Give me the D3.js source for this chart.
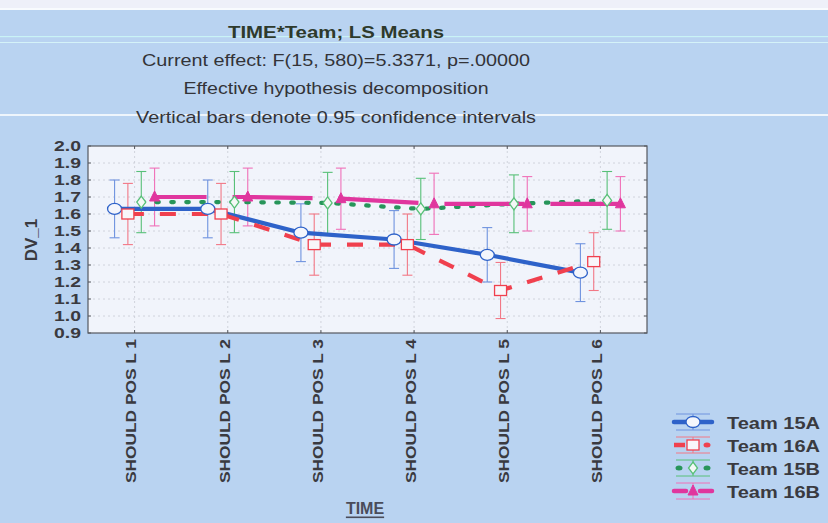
<!DOCTYPE html>
<html>
<head>
<meta charset="utf-8">
<script src="https://cdn.jsdelivr.net/npm/d3@7"></script>
<style>
  html, body { margin: 0; padding: 0; background: #b9d3f1; }
  svg { display: block; font-family: "Liberation Sans", Arial, sans-serif; }
</style>
</head>
<body>
<svg id="chart" width="828" height="523"></svg>
<script>
// Categories (repeated-measures levels of TIME)
const timeLevels = ["SHOULD POS L 1", "SHOULD POS L 2", "SHOULD POS L 3",
                    "SHOULD POS L 4", "SHOULD POS L 5", "SHOULD POS L 6"];

// LS means per team
const team15A = [1.63, 1.63, 1.49, 1.45, 1.36, 1.255];
const team16A = [1.60, 1.60, 1.42, 1.42, 1.15, 1.32];
const team15B = [1.67, 1.67, 1.665, 1.63, 1.66, 1.68];
const team16B = [1.70, 1.70, 1.69, 1.66, 1.66, 1.66];

// Half-widths of the 0.95 confidence intervals
const ci15A = [0.17, 0.17, 0.17, 0.17, 0.16, 0.17];
const ci16A = [0.18, 0.18, 0.18, 0.18, 0.165, 0.17];
const ci15B = [0.18, 0.18, 0.18, 0.18, 0.17, 0.17];
const ci16B = [0.17, 0.17, 0.18, 0.18, 0.16, 0.16];

const yTicks = [0.9, 1.0, 1.1, 1.2, 1.3, 1.4, 1.5, 1.6, 1.7, 1.8, 1.9, 2.0];

const titleLines = [
  "TIME*Team; LS Means",
  "Current effect: F(15, 580)=5.3371, p=.00000",
  "Effective hypothesis decomposition",
  "Vertical bars denote 0.95 confidence intervals"
];

const series = [
  { name: "Team 15A", means: team15A, ci: ci15A, line: "#2e62c9", bar: "#6f93df", marker: "circle",   dash: null,     cap: "butt"  },
  { name: "Team 16A", means: team16A, ci: ci16A, line: "#f0404e", bar: "#f27886", marker: "square",   dash: "16,16",  cap: "butt"  },
  { name: "Team 15B", means: team15B, ci: ci15B, line: "#27955a", bar: "#58c078", marker: "diamond",  dash: "2.5,12.5", cap: "round" },
  { name: "Team 16B", means: team16B, ci: ci16B, line: "#e0369e", bar: "#f070b8", marker: "triangle", dash: "80,26",  cap: "butt", offset: 28 }
];
const offsets = [-20, -6.7, 6.7, 20];

const svg = d3.select("#chart");
const W = 828, H = 523;
const plot = { left: 88, right: 647, top: 146, bottom: 333 };

// background and scan-band streaks
svg.append("rect").attr("width", W).attr("height", H).attr("fill", "#b9d3f1");
svg.append("rect").attr("width", W).attr("height", 8).attr("fill", "#eef0f9");
svg.append("rect").attr("y", 8).attr("width", W).attr("height", 2).attr("fill", "#ffffff").attr("opacity", 0.9);
svg.append("rect").attr("y", 36).attr("width", W).attr("height", 1.2).attr("fill", "#c9f3f6");
svg.append("rect").attr("y", 42).attr("width", W).attr("height", 1).attr("fill", "#d4f2f8");
svg.append("rect").attr("y", 114).attr("width", W).attr("height", 2).attr("fill", "#f4f8fd").attr("opacity", 0.9);

// titles
const titleY = [32, 60, 88, 117];
const titleW = [216, 388, 305, 400];
titleLines.forEach((t, i) => {
  svg.append("text")
    .attr("x", 336).attr("y", titleY[i])
    .attr("text-anchor", "middle")
    .attr("dominant-baseline", "central")
    .attr("font-size", 16)
    .attr("font-weight", i === 0 ? "bold" : "normal")
    .attr("fill", i === 0 ? "#2e3a2c" : "#333338")
    .attr("textLength", titleW[i])
    .attr("lengthAdjust", "spacingAndGlyphs")
    .text(t);
});

// scales
const x = d3.scaleBand().domain(timeLevels).range([plot.left, plot.right]).padding(0);
const cx = d => x(d) + x.bandwidth() / 2;
const y = d3.scaleLinear().domain([0.9, 2.0]).range([plot.bottom, plot.top]);

// plot area
svg.append("rect")
  .attr("x", plot.left).attr("y", plot.top)
  .attr("width", plot.right - plot.left).attr("height", plot.bottom - plot.top)
  .attr("fill", "#f1f4fb");

// grid
const grid = svg.append("g").attr("stroke", "#c9ccd6").attr("stroke-width", 0.8).attr("stroke-dasharray", "2,3");
grid.selectAll("line.h").data(yTicks.slice(1, -1)).join("line")
  .attr("x1", plot.left).attr("x2", plot.right)
  .attr("y1", d => y(d)).attr("y2", d => y(d));
grid.selectAll("line.v").data(timeLevels).join("line")
  .attr("x1", d => cx(d)).attr("x2", d => cx(d))
  .attr("y1", plot.top).attr("y2", plot.bottom);

// frame
svg.append("rect")
  .attr("x", plot.left).attr("y", plot.top)
  .attr("width", plot.right - plot.left).attr("height", plot.bottom - plot.top)
  .attr("fill", "none").attr("stroke", "#55585f").attr("stroke-width", 1.2);

// inward ticks on all four sides
const tickG = svg.append("g").attr("stroke", "#55585f").attr("stroke-width", 1);
yTicks.forEach(v => {
  tickG.append("line").attr("x1", plot.left).attr("x2", plot.left + 3).attr("y1", y(v)).attr("y2", y(v));
  tickG.append("line").attr("x1", plot.right).attr("x2", plot.right - 3).attr("y1", y(v)).attr("y2", y(v));
});
timeLevels.forEach(c => {
  tickG.append("line").attr("x1", cx(c)).attr("x2", cx(c)).attr("y1", plot.bottom).attr("y2", plot.bottom - 3);
  tickG.append("line").attr("x1", cx(c)).attr("x2", cx(c)).attr("y1", plot.top).attr("y2", plot.top + 3);
});

// y axis labels
const yAxis = d3.axisLeft(y).tickValues(yTicks).tickFormat(d3.format(".1f")).tickSize(0).tickPadding(7);
const yg = svg.append("g").attr("transform", `translate(${plot.left},0)`).call(yAxis);
yg.select(".domain").remove();
yg.selectAll("text")
  .attr("font-size", 15).attr("font-weight", "bold").attr("fill", "#3a3a40")
  .attr("font-family", "Liberation Sans, Arial, sans-serif")
  .attr("textLength", 27).attr("lengthAdjust", "spacingAndGlyphs");

// x axis labels (rotated)
const xAxis = d3.axisBottom(x).tickSize(0).tickPadding(0);
const xg = svg.append("g").attr("transform", `translate(0,${plot.bottom})`).call(xAxis);
xg.select(".domain").remove();
xg.selectAll("text")
  .attr("transform", "rotate(-90)")
  .attr("text-anchor", "end")
  .attr("x", -6).attr("y", -3).attr("dy", "0.35em")
  .attr("font-size", 14).attr("font-weight", "bold").attr("fill", "#3a3a40")
  .attr("font-family", "Liberation Sans, Arial, sans-serif")
  .attr("textLength", 144).attr("lengthAdjust", "spacingAndGlyphs");

// axis titles
svg.append("text")
  .attr("transform", "translate(31,240) rotate(-90)")
  .attr("text-anchor", "middle").attr("dominant-baseline", "central")
  .attr("font-size", 17).attr("font-weight", "bold").attr("fill", "#3a3a40")
  .text("DV_1");
svg.append("text")
  .attr("x", 365).attr("y", 508)
  .attr("text-anchor", "middle").attr("dominant-baseline", "central")
  .attr("font-size", 16).attr("font-weight", "bold").attr("fill", "#4a4c5a")
  .attr("text-decoration", "underline")
  .text("TIME");

// marker drawing
function drawMarker(g, s, px, py) {
  if (s.marker === "circle") {
    g.append("ellipse").attr("cx", px).attr("cy", py).attr("rx", 7).attr("ry", 5.5)
      .attr("fill", "#f4f6fc").attr("stroke", s.line).attr("stroke-width", 1.3);
  } else if (s.marker === "square") {
    g.append("rect").attr("x", px - 6).attr("y", py - 5).attr("width", 12).attr("height", 10)
      .attr("fill", "#f8f6fa").attr("stroke", s.line).attr("stroke-width", 1.3);
  } else if (s.marker === "diamond") {
    g.append("path").attr("d", `M${px},${py - 6}L${px + 4.5},${py}L${px},${py + 6}L${px - 4.5},${py}Z`)
      .attr("fill", "#f4f8f6").attr("stroke", s.bar).attr("stroke-width", 1.3);
  } else {
    g.append("path").attr("d", `M${px},${py - 6}L${px + 5},${py + 4}L${px - 5},${py + 4}Z`)
      .attr("fill", s.line).attr("stroke", s.line).attr("stroke-width", 1);
  }
}

// error bars, lines and markers
const errG = svg.append("g");
const lineG = svg.append("g");
const markG = svg.append("g");

series.forEach((s, si) => {
  const pts = timeLevels.map((c, i) => ({ x: cx(c) + offsets[si], m: s.means[i], ci: s.ci[i] }));

  const eb = errG.append("g").attr("stroke", s.bar).attr("stroke-width", 1.1).attr("fill", "none");
  pts.forEach(p => {
    eb.append("line").attr("x1", p.x).attr("x2", p.x).attr("y1", y(p.m + p.ci)).attr("y2", y(p.m - p.ci));
    eb.append("line").attr("x1", p.x - 5).attr("x2", p.x + 5).attr("y1", y(p.m + p.ci)).attr("y2", y(p.m + p.ci));
    eb.append("line").attr("x1", p.x - 5).attr("x2", p.x + 5).attr("y1", y(p.m - p.ci)).attr("y2", y(p.m - p.ci));
  });

  const line = d3.line().x(p => p.x).y(p => y(p.m));
  const path = lineG.append("path").datum(pts)
    .attr("d", line).attr("fill", "none")
    .attr("stroke", s.line).attr("stroke-width", 4.2)
    .attr("stroke-linecap", s.cap);
  if (s.dash) path.attr("stroke-dasharray", s.dash);
  if (s.offset) path.attr("stroke-dashoffset", s.offset);

  pts.forEach(p => drawMarker(markG, s, p.x, y(p.m)));
});

// legend
const legend = svg.append("g");
const legY = [422, 445, 468, 491];
series.forEach((s, i) => {
  const g = legend.append("g");
  const ly = legY[i], lx = 693;
  g.append("line").attr("x1", lx - 17).attr("x2", lx + 17).attr("y1", ly - 8).attr("y2", ly - 8).attr("stroke", s.bar).attr("stroke-width", 1);
  g.append("line").attr("x1", lx - 17).attr("x2", lx + 17).attr("y1", ly + 8).attr("y2", ly + 8).attr("stroke", s.bar).attr("stroke-width", 1);
  g.append("line").attr("x1", lx).attr("x2", lx).attr("y1", ly - 8).attr("y2", ly + 8).attr("stroke", s.bar).attr("stroke-width", 1);
  if (s.marker === "diamond") {
    g.append("ellipse").attr("cx", lx - 14).attr("cy", ly).attr("rx", 3.5).attr("ry", 2.5).attr("fill", s.line);
    g.append("ellipse").attr("cx", lx + 14).attr("cy", ly).attr("rx", 3.5).attr("ry", 2.5).attr("fill", s.line);
  } else if (s.marker === "square") {
    g.append("line").attr("x1", lx - 19).attr("x2", lx - 8).attr("y1", ly).attr("y2", ly).attr("stroke", s.line).attr("stroke-width", 4.5);
    g.append("ellipse").attr("cx", lx + 14).attr("cy", ly).attr("rx", 3.5).attr("ry", 2.5).attr("fill", s.line);
  } else {
    g.append("line").attr("x1", lx - 19).attr("x2", lx - 7).attr("y1", ly).attr("y2", ly).attr("stroke", s.line).attr("stroke-width", 4.5).attr("stroke-linecap", "round");
    g.append("line").attr("x1", lx + 7).attr("x2", lx + 19).attr("y1", ly).attr("y2", ly).attr("stroke", s.line).attr("stroke-width", 4.5).attr("stroke-linecap", "round");
  }
  drawMarker(g, s, lx, ly);
  g.append("text")
    .attr("x", 727).attr("y", ly + 1)
    .attr("dominant-baseline", "central")
    .attr("font-size", 17).attr("font-weight", "bold").attr("fill", "#3a3a40")
    .attr("textLength", 93).attr("lengthAdjust", "spacingAndGlyphs")
    .text(s.name);
});
</script>
</body>
</html>
